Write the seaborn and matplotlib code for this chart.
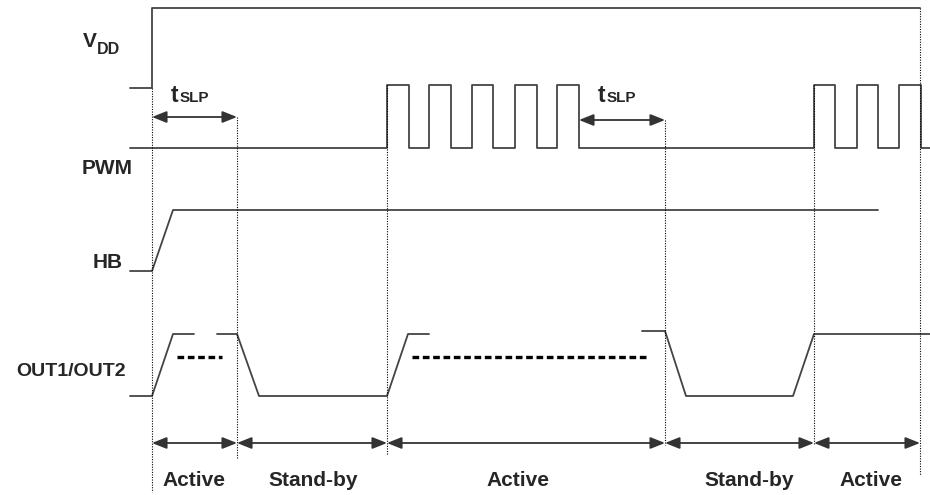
import matplotlib
matplotlib.use('Agg')
import matplotlib.pyplot as plt
import seaborn as sns

sns.set_style('white')
plt.rcParams['font.family'] = ['Liberation Sans', 'DejaVu Sans']

# --- waveform data (time in px along the diagram, level in px from top) ---
vdd_t = [130, 152, 152, 920]
vdd_y = [88, 88, 8, 8]

pwm_rise = [387, 429, 472, 515, 557, 814, 857, 899]
pwm_fall = [409, 451, 493, 537, 579, 835, 878, 921]
pwm_start, pwm_end = 130, 930
pwm_low, pwm_high = 148, 85

hb_t = [130, 152, 173, 878]
hb_y = [271, 271, 210, 210]

out_a_t = [130, 152, 173, 194]
out_a_y = [396, 396, 334, 334]
out_b_t = [217, 237, 259, 387, 408, 429]
out_b_y = [334, 334, 396, 396, 334, 334]
out_c_t = [642, 665, 686, 793, 814, 930]
out_c_y = [331, 331, 396, 396, 334, 334]
out_dash_t = [(177, 222), (412, 648)]
out_dash_y = 357

# phase boundaries and labels
phase_edges = [152, 237, 387, 665, 814, 920]
phase_labels = ['Active', 'Stand-by', 'Active', 'Stand-by', 'Active']
phase_label_x = [194, 313, 518, 749, 871]
phase_arrow_y = 443

# dotted marker lines: x, top, bottom
mark_x = [152, 237, 387, 665, 814, 920]
mark_top = [88, 117, 85, 120, 85, 8]
mark_bot = [492, 458, 455, 445, 445, 475]

# tSLP spans
tslp_start = [152, 579]
tslp_end = [237, 665]
tslp_y = [117, 120]
tslp_label_x = [171, 598]

# signal names
sig_names = ['PWM', 'HB', 'OUT1/OUT2']
sig_x = [133, 123, 126]
sig_y = [169, 262, 372]
sig_size = [15, 15, 14]

# build PWM step trace from edges
pwm_t = [pwm_start]
pwm_v = [pwm_low]
for r, f in zip(pwm_rise, pwm_fall):
    pwm_t += [r, r, f, f]
    pwm_v += [pwm_low, pwm_high, pwm_high, pwm_low]
pwm_t.append(pwm_end)
pwm_v.append(pwm_low)

fig = plt.figure(figsize=(9.3, 4.95), dpi=100)
ax = fig.add_axes([0, 0, 1, 1])

wave_col = '#444444'
lw = 1.3
for t, y in [(vdd_t, vdd_y), (pwm_t, pwm_v), (hb_t, hb_y),
             (out_a_t, out_a_y), (out_b_t, out_b_y), (out_c_t, out_c_y)]:
    sns.lineplot(x=t, y=y, ax=ax, sort=False, estimator=None,
                 color=wave_col, lw=lw)

for t0, t1 in out_dash_t:
    ax.plot([t0, t1], [out_dash_y, out_dash_y], color='black', lw=2.4,
            dashes=(2.0, 1.1))

# dotted vertical markers
for x, y0, y1 in zip(mark_x, mark_top, mark_bot):
    ax.plot([x, x], [y0, y1], color='black', lw=0.8, linestyle=(0, (1, 1.3)))

arrow_kw = dict(arrowstyle='<|-|>,head_length=0.55,head_width=0.22',
                color='#333333', lw=1.3, mutation_scale=16,
                shrinkA=0, shrinkB=0)

# tSLP arrows + labels
for x0, x1, y, lx in zip(tslp_start, tslp_end, tslp_y, tslp_label_x):
    ax.annotate('', xy=(x1, y), xytext=(x0, y), arrowprops=arrow_kw)
    ax.text(lx, 102, 't', fontsize=16.5, fontweight='bold',
            ha='left', va='baseline')
    ax.text(lx + 9, 102, 'SLP', fontsize=11, fontweight='bold',
            ha='left', va='baseline')

# phase arrows + labels
for i in range(len(phase_labels)):
    ax.annotate('', xy=(phase_edges[i + 1], phase_arrow_y),
                xytext=(phase_edges[i], phase_arrow_y), arrowprops=arrow_kw)
    ax.text(phase_label_x[i], 480, phase_labels[i], fontsize=15,
            fontweight='bold', ha='center', va='center')

# signal labels
ax.text(83, 47, 'V', fontsize=15, fontweight='bold', ha='left', va='baseline')
ax.text(97, 54, 'DD', fontsize=11.5, fontweight='bold', ha='left', va='baseline')
for name, x, y, s in zip(sig_names, sig_x, sig_y, sig_size):
    ax.text(x, y, name, fontsize=s, fontweight='bold', ha='right', va='center')

ax.set_xlim(0, 930)
ax.set_ylim(495, 0)
ax.axis('off')

fig.savefig('out.png', dpi=100)
